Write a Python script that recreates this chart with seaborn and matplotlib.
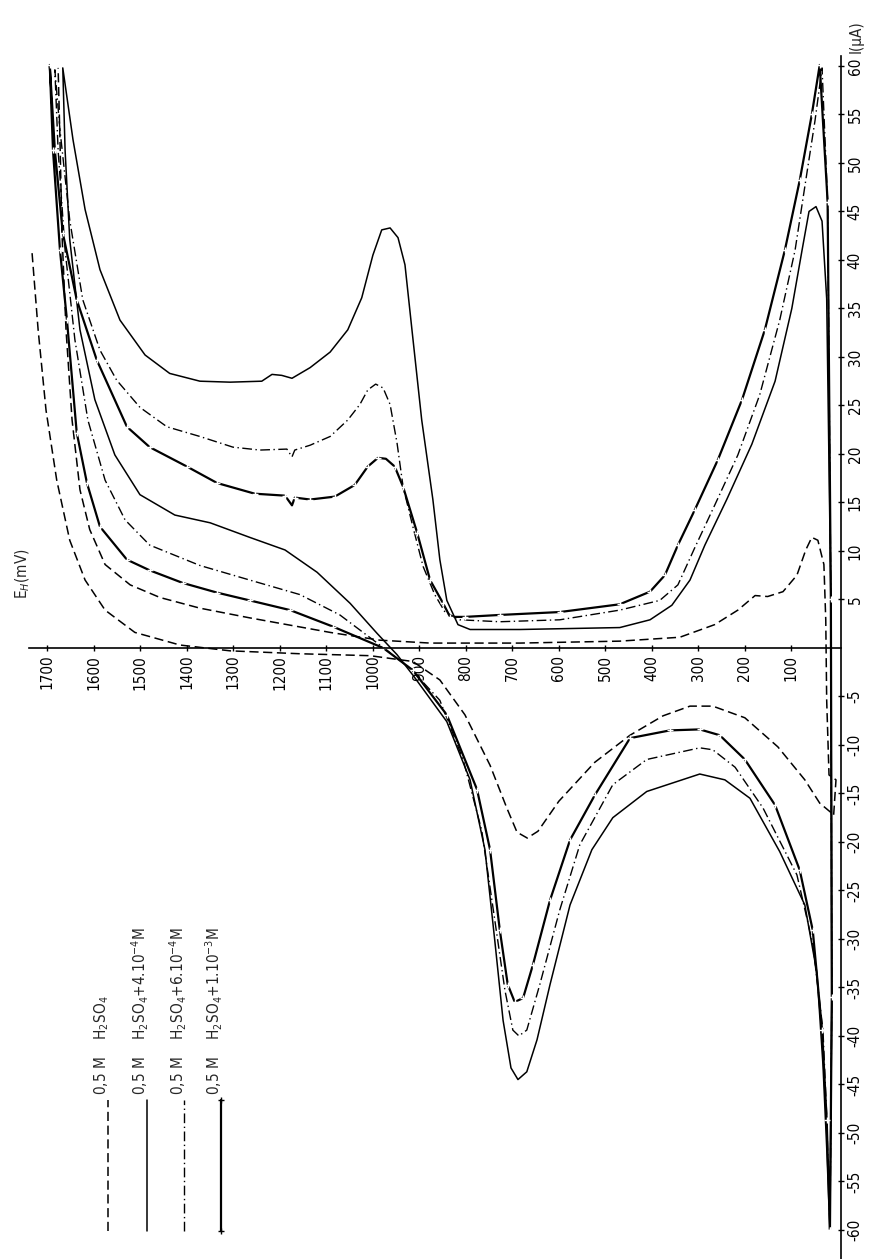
import pandas as pd
import seaborn as sns
from matplotlib import pyplot as plt

# Cyclic voltammograms: potential E_H (mV) and current I (uA)
# A: 0,5 M H2SO4 (dashed)
a_fwd_E = [9, 4, 19, 24, 26, 30, 43, 56, 69, 88, 118, 151, 178, 215, 265, 340, 469, 684, 877, 985,
           1092, 1265, 1372, 1458, 1522, 1576, 1609, 1630, 1647, 1660, 1669, 1673, 1677]
a_fwd_I = [-17.2, -13.6, -13.1, -5.4, 2.9, 8.6, 11.1, 11.4, 10.1, 7.5, 5.8, 5.3, 5.4, 3.9, 2.4, 1.1, 0.7, 0.5, 0.5, 0.8,
           1.6, 3.1, 4.1, 5.2, 6.5, 8.6, 12.2, 16.3, 23.5, 32.8, 43.1, 52.4, 59.8]
a_rev_E = [1733, 1720, 1703, 1680, 1652, 1619, 1576, 1512, 1415, 1307, 1157, 1006, 914, 856, 802, 748, 712, 690,
           668, 645, 600, 523, 447, 376, 318, 269, 200, 129, 71, 39, 9]
a_rev_I = [40.7, 32.8, 24.5, 17.3, 11.1, 7.0, 3.9, 1.6, 0.3, -0.3, -0.6, -0.8, -1.4, -3.3, -6.9, -12.1, -16.5, -19.0,
           -19.6, -18.9, -15.8, -11.8, -9.0, -7.0, -6.0, -6.0, -7.2, -10.2, -13.6, -16.0, -17.2]

# B: 0,5 M H2SO4 + 4.10-4 M (solid)
b_fwd_E = [17, 13, 15, 24, 34, 47, 62, 77, 99, 135, 185, 239, 286, 318, 357, 404, 469, 684, 791, 817, 841, 856,
           871, 895, 916, 931, 946, 963, 981, 1000, 1024, 1054, 1092, 1135, 1174, 1196, 1217, 1239, 1307, 1372,
           1437, 1490, 1544, 1587, 1619, 1645, 1667]
b_fwd_I = [-60, -36, 5, 36, 44, 45.5, 45, 41, 35, 27.5, 21, 15.3, 10.6, 7, 4.4, 2.9, 2.1, 1.9, 1.9, 2.4, 4.9, 9.1,
           15.3, 23.5, 32.8, 39.5, 42.3, 43.3, 43.1, 40.5, 36.1, 32.8, 30.5, 28.9, 27.8, 28.1, 28.2, 27.5, 27.4, 27.5,
           28.3, 30.2, 33.8, 39, 45.2, 52.4, 59.8]
b_rev_E = [1667, 1662, 1652, 1630, 1598, 1555, 1501, 1426, 1350, 1265, 1189, 1120, 1049, 991, 948, 914, 841, 791,
           759, 738, 720, 703, 688, 669, 647, 619, 576, 529, 484, 411, 297, 243, 189, 125, 71, 45, 32, 24, 17]
b_rev_I = [59.8, 51.3, 42.1, 32.8, 25.6, 19.9, 15.8, 13.7, 12.9, 11.4, 10.1, 7.8, 4.6, 1.5, -0.7, -2.8, -7.6, -13.6,
           -20.8, -30.1, -38.4, -43.3, -44.5, -43.7, -40.4, -34.7, -26.5, -20.8, -17.5, -14.8, -13, -13.6, -15.5,
           -21, -26.5, -33.5, -43, -51.5, -60]

# C: 0,5 M H2SO4 + 6.10-4 M (dash-dot)
c_fwd_E = [17, 13, 15, 22, 34, 49, 69, 92, 125, 168, 215, 265, 308, 344, 383, 469, 598, 727, 813, 845, 867, 892,
           914, 935, 948, 963, 978, 994, 1011, 1028, 1054, 1092, 1135, 1168, 1174, 1185, 1243, 1301, 1372, 1443,
           1501, 1551, 1587, 1624, 1652, 1673, 1684]
c_fwd_I = [-60, -36, 5, 46, 59.8, 54.4, 48.2, 41, 33.8, 26.1, 19.9, 14.7, 10.3, 6.5, 4.9, 3.9, 2.9, 2.7, 2.9, 3.7,
           5.5, 8.4, 12.5, 16.6, 21.1, 25.1, 26.8, 27.2, 26.6, 25.1, 23.5, 21.8, 20.9, 20.4, 19.7, 20.5, 20.4, 20.7,
           21.8, 22.8, 24.8, 27.6, 30.7, 35.9, 44.1, 53.4, 59.6]
c_rev_E = [1684, 1677, 1662, 1641, 1613, 1576, 1533, 1480, 1372, 1265, 1157, 1071, 985, 920, 856, 806, 766, 738,
           716, 699, 686, 669, 641, 598, 555, 484, 411, 297, 269, 221, 161, 88, 54, 32, 24, 17]
c_rev_I = [59.6, 51.3, 41, 31.8, 23.5, 17.3, 13.2, 10.6, 8.5, 7, 5.5, 3.4, 0.3, -2.1, -5.4, -11.5, -18.8, -28,
           -35.3, -39.4, -40, -39.4, -34.7, -27, -20.3, -14.1, -11.5, -10.3, -10.5, -12.3, -16.5, -23.4, -30.5,
           -39.4, -48.2, -60]

# D: 0,5 M H2SO4 + 1.10-3 M (solid with crosses)
d_fwd_E = [17, 13, 15, 22, 39, 56, 82, 114, 157, 206, 258, 308, 344, 372, 404, 469, 598, 727, 802, 834, 849, 877,
           905, 935, 953, 972, 989, 1011, 1039, 1082, 1135, 1168, 1174, 1189, 1254, 1335, 1400, 1480, 1529, 1594,
           1637, 1667, 1684, 1695]
d_fwd_I = [-60, -36, 5, 46, 60.1, 55, 48.2, 41, 32.8, 25.6, 19.4, 14.2, 10.6, 7.5, 5.8, 4.5, 3.7, 3.4, 3.2, 3.2,
           4.6, 7, 11.9, 16.6, 18.7, 19.5, 19.6, 18.7, 16.8, 15.6, 15.3, 15.5, 14.7, 15.7, 15.9, 17, 18.7, 20.7,
           22.8, 29.7, 35.9, 42.8, 51.3, 60.1]
d_rev_E = [1695, 1688, 1673, 1658, 1637, 1615, 1587, 1529, 1480, 1409, 1335, 1265, 1178, 1086, 978, 914, 841, 776,
           748, 727, 710, 695, 677, 656, 619, 576, 523, 447, 361, 297, 254, 200, 135, 82, 54, 34, 24, 17]
d_rev_I = [60.1, 51.3, 41, 33.8, 22.2, 17, 12.5, 9.1, 8, 6.7, 5.7, 4.9, 3.9, 2.2, 0, -2.3, -6.9, -14.6, -20.8,
           -29.1, -34.7, -36.5, -36.1, -32.7, -26, -19.8, -15.2, -9.3, -8.5, -8.4, -9, -11.5, -16.2, -22.9, -29.1,
           -39.4, -48.7, -60]

e_ticks = [100, 200, 300, 400, 500, 600, 700, 800, 900, 1000, 1100, 1200, 1300, 1400, 1500, 1600, 1700]
i_ticks = [60, 55, 50, 45, 40, 35, 30, 25, 20, 15, 10, 5, -5, -10, -15, -20, -25, -30, -35, -40, -45, -50, -55, -60]

legend_labels = [
    "0,5 M    H$_2$SO$_4$",
    "0,5 M    H$_2$SO$_4$+4.10$^{-4}$M",
    "0,5 M    H$_2$SO$_4$+6.10$^{-4}$M",
    "0,5 M    H$_2$SO$_4$+1.10$^{-3}$M",
]

sns.set_theme(style="white")
plt.rcParams["font.family"] = ["Liberation Sans Narrow", "DejaVu Sans"]
plt.rcParams["font.stretch"] = "condensed"

dashed = (0, (6, 3))
dashdot = (0, (7, 2.5, 1, 2.5))
styles = {
    "A": dict(color="black", lw=1.1, linestyle=dashed),
    "B": dict(color="black", lw=1.1, linestyle="-"),
    "C": dict(color="black", lw=1.0, linestyle=dashdot),
    "D": dict(color="black", lw=1.6, linestyle="-", marker="+", markersize=4, mew=1.0, markevery=0.012),
}

fig = plt.figure(figsize=(8.69, 12.59), dpi=100)
ax = fig.add_axes([0, 0, 1, 1])

# A drawn in two pieces (forward and return sweep are not joined on the scan)
sns.lineplot(x=a_fwd_E, y=a_fwd_I, sort=False, estimator=None, ax=ax, **styles["A"])
sns.lineplot(x=a_rev_E, y=a_rev_I, sort=False, estimator=None, ax=ax, **styles["A"])
for key, ef, i_f, er, i_r in [("B", b_fwd_E, b_fwd_I, b_rev_E, b_rev_I),
                              ("C", c_fwd_E, c_fwd_I, c_rev_E, c_rev_I),
                              ("D", d_fwd_E, d_fwd_I, d_rev_E, d_rev_I)]:
    loop = pd.DataFrame({"E": ef + er, "I": i_f + i_r})
    sns.lineplot(data=loop, x="E", y="I", sort=False, estimator=None, ax=ax, **styles[key])

# axes cross like the original: E axis along I = 0, current axis at E = 0 on the right
ax.set_xlim(1802, -67)
ax.set_ylim(-63, 66.8)
ax.spines["top"].set_visible(False)
ax.spines["left"].set_visible(False)
ax.spines["bottom"].set_position(("data", 0))
ax.spines["bottom"].set_bounds(-6, 1740)
ax.spines["right"].set_position(("data", -6))
ax.spines["right"].set_bounds(-63, 61)
for s in ["bottom", "right"]:
    ax.spines[s].set_color("black")
    ax.spines[s].set_linewidth(1.2)
ax.xaxis.set_ticks_position("bottom")
ax.yaxis.set_ticks_position("right")
ax.set_xticks(e_ticks)
ax.set_xticklabels([str(v) for v in e_ticks], rotation=90)
ax.set_yticks(i_ticks)
ax.set_yticklabels([str(v) for v in i_ticks], rotation=90, va="center")
ax.tick_params(direction="inout", length=4, width=1, labelsize=11, pad=3, colors="black")
ax.set_xlabel("")
ax.set_ylabel("")

ax.text(1752, 5, "E$_H$(mV)", rotation=90, ha="center", va="bottom", fontsize=11)
ax.text(-40, 61.3, "I(\u00b5A)", rotation=90, ha="center", va="bottom", fontsize=11)

# legend drawn by hand: vertical samples with rotated text
leg_x = [0.124, 0.169, 0.212, 0.254]
for k, (key, label) in enumerate(zip(["A", "B", "C", "D"], legend_labels)):
    ax.plot([leg_x[k], leg_x[k]], [0.022, 0.126], transform=ax.transAxes, **styles[key])
    ax.text(leg_x[k] - 0.007, 0.13, label, transform=ax.transAxes, rotation=90,
            ha="center", va="bottom", fontsize=11)

fig.savefig("out.png", dpi=100)
